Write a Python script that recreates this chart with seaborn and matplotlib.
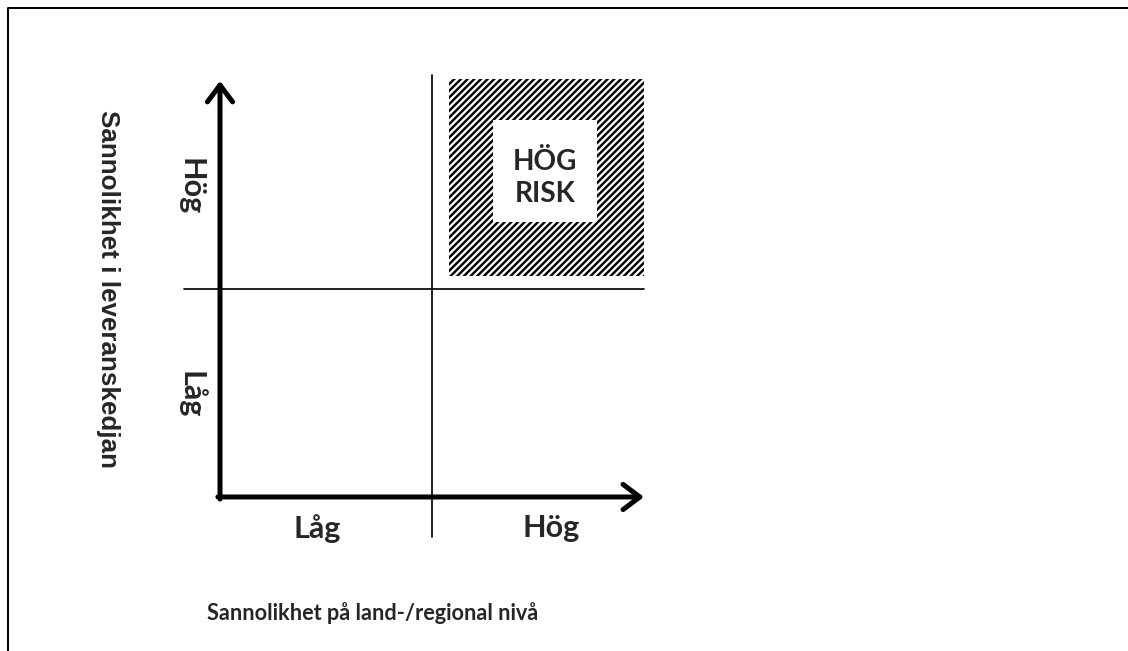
import matplotlib
matplotlib.use("Agg")
import matplotlib.pyplot as plt
from matplotlib.patches import Rectangle
from matplotlib.lines import Line2D
import seaborn as sns

# risk matrix: two levels on each axis, the high/high cell is the risk zone
levels = ["Låg", "Hög"]
x_title = "Sannolikhet på land-/regional nivå"
y_title = "Sannolikhet i leveranskedjan"
risk_cell = ("Hög", "Hög")
risk_text = "HÖG\nRISK"

DPI = 100
PX = 72 / DPI  # points per pixel, so sizes below can be given in pixels

sns.set_theme(style="white")
plt.rcParams["font.family"] = ["Lato", "DejaVu Sans"]
plt.rcParams["hatch.linewidth"] = 2.4 * PX

fig = plt.figure(figsize=(1128 / DPI, 651 / DPI), dpi=DPI)
ax = fig.add_axes([0, 0, 1, 1])
# data units: each level is one unit wide, origin of the matrix at (0, 0)
ax.set_xlim(-1.0377, 4.283)
ax.set_ylim(-0.7404, 2.389)
ax.axis("off")

n = len(levels)
ri = levels.index(risk_cell[0])
rj = levels.index(risk_cell[1])

# hatched high-risk square with a white label box
ax.add_patch(Rectangle((ri + 0.08, rj + 0.06), 0.92, 0.95, facecolor="white",
                       edgecolor="black", hatch="/////", linewidth=0))
ax.add_patch(Rectangle((ri + 0.29, rj + 0.32), 0.49, 0.49, facecolor="white",
                       edgecolor="none", zorder=2))
ax.text(ri + 0.535, rj + 0.535, risk_text, ha="center", va="center",
        fontsize=28 * PX, fontweight="bold", linespacing=1.3, zorder=3)

# quadrant dividers
ax.plot([1, 1], [-0.19, n + 0.03], color="black", lw=1.7 * PX)
ax.plot([-0.17, n], [1, 1], color="black", lw=1.7 * PX)

# axes arrows
arrow = dict(arrowstyle="->,head_length=0.6,head_width=0.45", lw=5 * PX,
             color="black", mutation_scale=28 * PX, shrinkA=0, shrinkB=0,
             capstyle="round", joinstyle="round")
ax.annotate("", xy=(n, 0), xytext=(-0.01, 0), arrowprops=arrow)
ax.annotate("", xy=(0, n), xytext=(0, -0.01), arrowprops=arrow)

# level labels
for i, lab in enumerate(levels):
    ax.text(i + 0.46 + 0.1 * i, -0.15, lab, ha="center", va="center",
            fontsize=30.5 * PX, fontweight="bold")
    ax.text(-0.137, i + 0.49, lab, ha="center", va="center", rotation=270,
            fontsize=30.5 * PX, fontweight="bold")

ax.text(0.72, -0.56, x_title, ha="center", va="center", fontsize=21.7 * PX,
        fontweight="bold")
ax.text(-0.53, 1.0, y_title, ha="center", va="center", rotation=270,
        fontsize=26 * PX, fontweight="bold",
        family=["Liberation Sans", "DejaVu Sans"])

# frame line along top and left edges
fig.add_artist(Line2D([8 / 1128, 8 / 1128, 1], [0, 1 - 8 / 651, 1 - 8 / 651],
                      transform=fig.transFigure, color="black", lw=2 * PX))

fig.savefig("out.png", dpi=DPI)
